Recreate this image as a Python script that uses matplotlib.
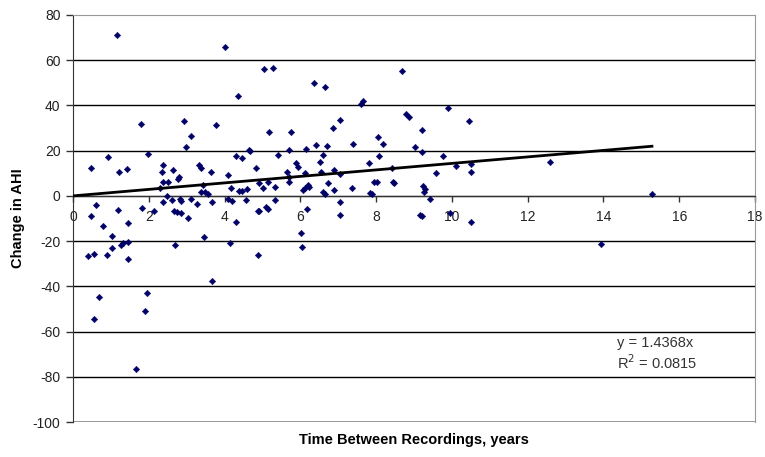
import matplotlib
matplotlib.use("Agg")
import matplotlib.pyplot as plt
import numpy as np
from matplotlib import font_manager

# ---- data ----
years = [1.17, 4.01, 4.36, 1.79, 2.93, 3.77, 3.11, 2.98, 4.64,
         5.03, 5.28, 6.35, 6.65, 8.68, 7.65, 7.61, 9.89, 8.80, 8.86,
         5.16, 5.75, 7.04, 6.86, 8.04, 8.18, 9.21, 6.42, 6.70, 7.39,
         9.03, 6.14, 5.70,
         0.93, 0.48, 1.97, 1.22, 1.42, 2.37, 2.36, 2.63, 2.80, 2.78,
         2.38, 2.51, 2.29, 3.33, 3.39, 3.64, 4.10, 4.30, 4.47, 4.66,
         4.83, 3.44, 3.39, 3.48, 3.57, 4.16, 4.39, 4.47, 4.58, 2.47,
         2.38, 2.61, 2.82, 2.85, 3.11, 3.27, 3.67, 4.09, 4.20, 4.57,
         4.89, 0.61, 0.48, 1.19, 1.81, 2.14, 2.67, 2.74, 2.85, 3.04,
         4.29, 0.79, 1.46, 1.04, 3.47, 4.15, 1.26, 1.32, 1.02, 1.46,
         2.70, 0.56, 0.89, 1.46, 4.89, 3.66, 0.40,
         0.68, 0.56, 1.94, 1.90, 1.66,
         9.20, 5.40, 6.61, 6.51, 5.89, 5.93, 5.64, 5.70, 5.70, 6.11,
         6.55, 6.90, 7.06, 7.80, 8.07, 9.77, 9.57, 8.42, 4.92, 5.01,
         5.14, 5.32, 6.07, 6.11, 6.22, 6.20, 6.61, 6.64, 6.73, 6.90,
         7.37, 7.94, 8.03, 8.45, 8.47, 7.83, 7.88, 9.24, 9.29, 9.26,
         9.42, 5.34, 4.92, 5.10, 5.14, 6.17, 7.06, 7.06, 9.17, 9.22,
         6.01, 6.04,
         10.46, 10.11, 10.50, 10.50, 12.59, 15.28, 10.50, 9.95, 13.94]
ahi_change = [71.2, 65.9, 44.2, 31.8, 33.0, 31.5, 26.7, 21.8, 20.3,
              56.2, 56.5, 49.8, 48.1, 55.3, 42.0, 40.8, 38.8, 36.1, 34.8,
              28.4, 28.2, 33.6, 30.2, 26.2, 23.0, 29.2, 22.6, 22.2, 23.0,
              21.7, 20.8, 20.3,
              17.1, 12.5, 18.6, 10.7, 11.8, 13.7, 10.5, 11.4, 8.5, 7.5,
              6.2, 6.2, 3.7, 13.7, 12.2, 10.5, 9.4, 17.8, 16.7, 19.8,
              12.4, 4.6, 1.8, 1.5, 0.9, 3.7, 2.2, 2.2, 3.0, 0.0,
              -2.5, -1.8, -1.3, -2.1, -1.5, -3.4, -2.8, -1.5, -2.1, -1.8,
              -6.9, -4.0, -8.8, -6.2, -5.2, -6.6, -6.6, -7.1, -7.4, -9.6,
              -11.4, -13.1, -11.8, -17.7, -18.4, -20.7, -21.8, -20.9, -23.1, -20.2,
              -21.7, -25.8, -26.1, -27.7, -26.1, -37.6, -26.5,
              -44.7, -54.5, -42.8, -50.9, -76.7,
              19.6, 18.0, 18.1, 15.2, 14.5, 12.7, 10.7, 8.5, 6.3, 10.0,
              10.7, 11.5, 9.6, 14.7, 17.8, 17.7, 10.0, 12.3, 5.9, 3.4,
              6.3, 4.1, 2.4, 3.4, 4.1, 4.9, 1.9, 0.8, 5.6, 2.7,
              3.4, 6.3, 6.3, 6.3, 5.6, 1.2, 0.8, 4.4, 3.0, 1.9,
              -1.5, -1.8, -6.9, -4.7, -5.7, -5.7, -2.9, -8.5, -8.4, -9.1,
              -16.2, -22.7,
              33.2, 13.4, 10.7, 14.0, 15.2, 0.8, -11.4, -7.6, -21.2]
slope = 1.4368
r_squared = 0.0815
x_ticks = [0, 2, 4, 6, 8, 10, 12, 14, 16, 18]
y_ticks = [-100, -80, -60, -40, -20, 0, 20, 40, 60, 80]

installed = {f.name for f in font_manager.fontManager.ttflist}
narrow = "Liberation Sans Narrow" if "Liberation Sans Narrow" in installed else "Liberation Sans"

plt.rcParams['font.family'] = ['Liberation Sans', 'DejaVu Sans']
plt.rcParams['axes.unicode_minus'] = False

fig = plt.figure(figsize=(7.65, 4.57), dpi=100)
ax = fig.add_axes([73/765, 1-422/457, (755-73)/765, (422-15)/457])

ax.set_xlim(0, 18)
ax.set_ylim(-100, 80)

# gridlines
for yv in y_ticks:
    if yv in (80, -100):
        continue
    ax.axhline(yv, color='black', lw=1.0, zorder=1)

# points
ax.scatter(years, ahi_change, marker='D', s=11, color='#000066',
           edgecolors='#000066', linewidths=0.3, zorder=3)

# trend line
xt = np.array([0, max(years)])
ax.plot(xt, slope * xt, color='black', lw=2.0, zorder=4)

# spines
ax.spines['bottom'].set_position(('data', 0))
ax.spines['bottom'].set_color('#333333')
ax.spines['left'].set_color('#333333')
ax.spines['top'].set_color('#999999')
ax.spines['right'].set_color('#999999')
ax.axhline(-100, color='#888888', lw=1.2, zorder=2)

ax.set_xticks(x_ticks)
ax.set_yticks(y_ticks)
ax.tick_params(axis='x', direction='out', length=4, width=1, colors='#333333',
               labelsize=10, pad=6, labelcolor='#222222')
ax.tick_params(axis='y', direction='out', length=5, width=1, colors='#333333',
               labelsize=10, pad=4, labelcolor='#222222')

ax.text(0.797, 0.194, f"y = {slope}x", transform=ax.transAxes, fontsize=10.5,
        color='#333333', ha='left', va='center')
ax.text(0.797, 0.147, f"R$^2$ = {r_squared}", transform=ax.transAxes, fontsize=10.5,
        color='#333333', ha='left', va='center')

fig.text(414/765, 1-440/457, "Time Between Recordings, years", ha='center', va='center',
         fontsize=10.5, fontweight='bold', family=[narrow, 'DejaVu Sans'])
fig.text(18/765, 1-218/457, "Change in AHI", ha='center', va='center', rotation=90,
         fontsize=10.5, fontweight='bold', family=[narrow, 'DejaVu Sans'])

fig.savefig("out.png", dpi=100)
